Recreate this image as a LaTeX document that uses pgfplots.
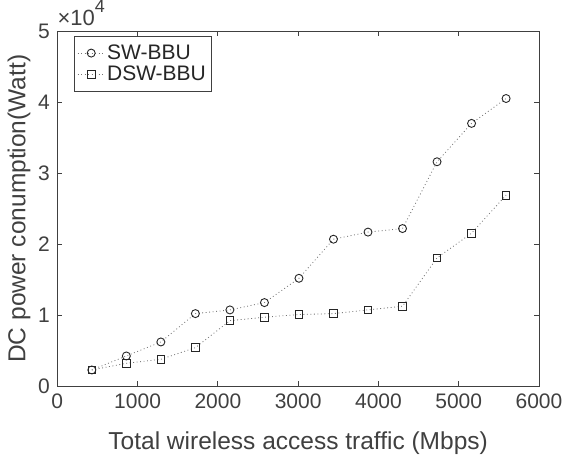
\documentclass[border=0pt]{standalone}
\usepackage{fontspec}
\setmainfont{Liberation Sans}
\usepackage{pgfplots}
\pgfplotsset{compat=1.18}
\definecolor{axgray}{rgb}{0.25,0.25,0.25}
\begin{document}
\begin{tikzpicture}
\useasboundingbox (0,0) rectangle (564pt,461pt);
\begin{axis}[
    at={(57.3pt,74.7pt)}, anchor=south west,
    scale only axis, width=481.7pt, height=355.3pt,
    xmin=0, xmax=6000, ymin=0, ymax=50000,
    xtick={0,1000,...,6000},
    ytick={0,10000,20000,30000,40000,50000},
    scaled y ticks=base 10:-4,
    ytick scale label code/.code={×10\raisebox{1.05ex}{\fontsize{18}{20}\selectfont #1}},
    every y tick scale label/.style={at={(rel axis cs:0,1)}, anchor=base west, inner sep=0pt, yshift=6pt, xshift=4pt, font=\fontsize{22}{24}\selectfont, text=axgray},
    /pgf/number format/assume math mode=true,
    /pgf/number format/1000 sep={},
    tick label style={font=\fontsize{21}{24}\selectfont, text=axgray},
    xticklabel style={yshift=-4pt},
    yticklabel style={xshift=-4pt},
    label style={font=\fontsize{24.5}{28}\selectfont, text=axgray},
    xlabel={Total wireless access traffic (Mbps)},
    ylabel={DC power conumption(Watt)},
    xlabel style={at={(rel axis cs:0.5,0)}, anchor=base, yshift=-63.5pt},
    ylabel style={at={(rel axis cs:0,0.5)}, anchor=base, rotate=0, yshift=32pt},
    axis line style={axgray, line width=0.8pt},
    every tick/.style={axgray, line width=0.8pt},
    major tick length=5pt,
    tick align=inside,
    legend style={at={(rel axis cs:0,1)}, anchor=north west, xshift=16.7pt, yshift=-4.7pt,
        draw=axgray, line width=0.6pt, font=\fontsize{21}{24}\selectfont, text=black!85,
        inner xsep=3pt, inner ysep=7pt, row sep=1pt,
        /tikz/every even column/.append style={column sep=6pt}},
    legend cell align=left,
    legend image code/.code={
        \draw[#1, mark=none] (0pt,0pt) -- (27pt,0pt);
        \draw[#1] plot coordinates {(13.5pt,0pt)};
    },
    every axis plot/.append style={black!55, line width=0.8pt, dash pattern=on 0.9pt off 2.6pt,
        mark options={solid, draw=black!85, line width=0.9pt, fill=none}},
]
\addplot[mark=o, mark size=4pt] coordinates {
(430,2300)(860,4270)(1290,6240)(1720,10230)(2150,10750)(2580,11780)
(3010,15200)(3440,20700)(3870,21700)(4300,22200)(4730,31600)(5160,37000)(5590,40500)
};
\addplot[mark=square, mark size=3.8pt] coordinates {
(430,2300)(860,3240)(1290,3800)(1720,5440)(2150,9240)(2580,9720)
(3010,10100)(3440,10230)(3870,10750)(4300,11270)(4730,18070)(5160,21550)(5590,26900)
};
\legend{SW-BBU, DSW-BBU}
\end{axis}
\end{tikzpicture}
\end{document}
